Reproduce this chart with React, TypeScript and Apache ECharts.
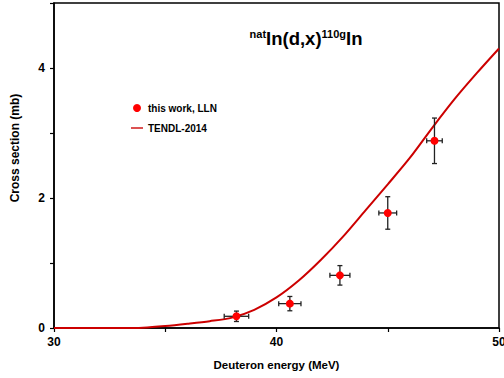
import React, { useEffect, useRef } from "react";
import * as echarts from "echarts";

// Experimental data (this work, LLN)
const expEnergy = [38.2, 40.6, 42.85, 45.0, 47.1];
const expXS = [0.18, 0.375, 0.81, 1.77, 2.88];
const expEnergyErr = [0.55, 0.5, 0.45, 0.4, 0.35];
const expXSErr = [0.08, 0.11, 0.15, 0.25, 0.35];

// TENDL-2014 curve
const tendlEnergy = [30, 31, 32, 33, 34, 35, 36, 37, 38, 39, 40, 41, 42, 43, 44, 45, 46, 47, 48, 49, 50];
const tendlXS = [0, 0, 0, 0, 0.005, 0.03, 0.065, 0.105, 0.16, 0.28, 0.47, 0.73, 1.05, 1.41, 1.81, 2.21, 2.62, 3.08, 3.52, 3.92, 4.3];

const xTicks = [30, 40, 50];
const yTicks = [0, 2, 4];

const FONT = '"Liberation Sans", Arial, sans-serif';
const LINE_ICON = "path://M0,0 M13,8 M-3,3.1 L13,3.1 L13,4.9 L-3,4.9 Z";

export default function App() {
  const ref = useRef<HTMLDivElement>(null);
  useEffect(() => {
    if (!ref.current) return;
    const chart = echarts.init(ref.current, undefined, { renderer: "svg" });
    const errData = expEnergy.map((e, i) => [e, expXS[i], expEnergyErr[i], expXSErr[i]]);
    chart.setOption({
      animation: false,
      textStyle: { fontFamily: FONT },
      grid: {
        left: 54,
        right: 5,
        top: 3,
        bottom: 50,
        containLabel: false,
        outerBoundsMode: "none",
        show: true,
        borderColor: "#000",
        borderWidth: 1.5,
        backgroundColor: "transparent",
      },
      legend: {
        orient: "vertical",
        left: 131,
        top: 103,
        padding: 0,
        itemWidth: 12,
        itemHeight: 8,
        itemGap: 10,
        textStyle: { fontFamily: FONT, fontSize: 10, fontWeight: "bold", color: "#000" },
        data: [
          { name: "this work, LLN", icon: "circle" },
          { name: "TENDL-2014", icon: LINE_ICON },
        ],
      },
      xAxis: {
        type: "value",
        min: 30,
        max: 50,
        interval: 5,
        splitLine: { show: false },
        axisLine: { lineStyle: { color: "#000", width: 1.5 } },
        axisTick: { length: 4, lineStyle: { color: "#000", width: 1.2 } },
        axisLabel: {
          margin: 8,
          fontFamily: FONT,
          fontSize: 12,
          fontWeight: "bold",
          color: "#000",
          formatter: (v: number) => (xTicks.includes(v) ? String(v) : ""),
        },
        name: "Deuteron energy (MeV)",
        nameLocation: "middle",
        nameGap: 31,
        nameTextStyle: { fontFamily: FONT, fontSize: 11.5, fontWeight: "bold", color: "#000" },
      },
      yAxis: {
        type: "value",
        min: 0,
        max: 5,
        interval: 1,
        splitLine: { show: false },
        axisLine: { lineStyle: { color: "#000", width: 1.5 } },
        axisTick: { length: 4, lineStyle: { color: "#000", width: 1.2 } },
        axisLabel: {
          margin: 9,
          fontFamily: FONT,
          fontSize: 12,
          fontWeight: "bold",
          color: "#000",
          formatter: (v: number) => (yTicks.includes(v) ? String(v) : ""),
        },
      },
      graphic: [
        {
          type: "text",
          x: 306,
          y: 28,
          style: {
            text: "{sup|nat}{main|In(d,x)}{sup|110g}{main|In}",
            align: "center",
            rich: {
              sup: { fontFamily: FONT, fontSize: 11, fontWeight: "bold", color: "#000", verticalAlign: "top", lineHeight: 20 },
              main: { fontFamily: FONT, fontSize: 18.5, fontWeight: "bold", color: "#000", lineHeight: 20 },
            },
          },
        },
        {
          type: "text",
          x: 15,
          y: 148,
          rotation: Math.PI / 2,
          style: {
            text: "Cross section (mb)",
            align: "center",
            verticalAlign: "middle",
            fontFamily: FONT,
            fontSize: 12,
            fontWeight: "bold",
            fill: "#000",
          },
        },
      ],
      series: [
        {
          name: "TENDL-2014",
          type: "line",
          data: tendlEnergy.map((e, i) => [e, tendlXS[i]]),
          smooth: 0.3,
          symbol: "none",
          lineStyle: { color: "#cc0000", width: 2 },
          itemStyle: { color: "#cc0000" },
          z: 2,
        },
        {
          name: "errors",
          type: "custom",
          data: errData,
          z: 3,
          renderItem: (params: any, api: any) => {
            const x = api.value(0);
            const y = api.value(1);
            const dx = api.value(2);
            const dy = api.value(3);
            const c = api.coord([x, y]);
            const left = api.coord([x - dx, y]);
            const right = api.coord([x + dx, y]);
            const top = api.coord([x, y + dy]);
            const bot = api.coord([x, y - dy]);
            const cap = 2.5;
            const st = { stroke: "#222", lineWidth: 1.3 };
            return {
              type: "group",
              children: [
                { type: "line", shape: { x1: left[0], y1: c[1], x2: right[0], y2: c[1] }, style: st },
                { type: "line", shape: { x1: c[0], y1: top[1], x2: c[0], y2: bot[1] }, style: st },
                { type: "line", shape: { x1: left[0], y1: c[1] - cap, x2: left[0], y2: c[1] + cap }, style: st },
                { type: "line", shape: { x1: right[0], y1: c[1] - cap, x2: right[0], y2: c[1] + cap }, style: st },
                { type: "line", shape: { x1: c[0] - cap, y1: top[1], x2: c[0] + cap, y2: top[1] }, style: st },
                { type: "line", shape: { x1: c[0] - cap, y1: bot[1], x2: c[0] + cap, y2: bot[1] }, style: st },
              ],
            };
          },
        },
        {
          name: "this work, LLN",
          type: "scatter",
          data: expEnergy.map((e, i) => [e, expXS[i]]),
          symbol: "circle",
          symbolSize: 8,
          itemStyle: { color: "#ff0000", opacity: 1 },
          z: 4,
        },
      ],
    });
    return () => chart.dispose();
  }, []);
  return <div ref={ref} style={{ width: 504, height: 378, position: "absolute", left: 0, top: 0 }} />;
}
